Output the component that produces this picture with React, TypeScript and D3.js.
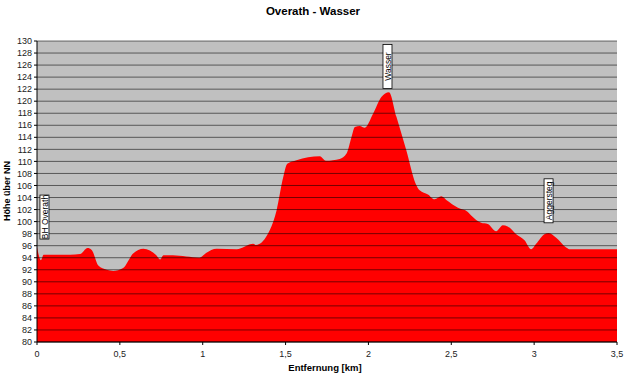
import React from "react";
import * as d3 from "d3";

const distKm = [
  0, 0.024, 0.04, 0.1, 0.2, 0.26, 0.305, 0.33, 0.37, 0.42, 0.46, 0.52, 0.58, 0.642, 0.72, 0.743, 0.763, 0.82, 0.9,
  0.98, 1.02, 1.084, 1.205, 1.305, 1.32, 1.405, 1.446, 1.486, 1.51, 1.566, 1.707, 1.743, 1.827, 1.868, 1.898, 1.918,
  1.948, 1.978, 2.028, 2.078, 2.124, 2.169, 2.229, 2.285, 2.309, 2.359, 2.399, 2.44, 2.47, 2.54, 2.6, 2.62, 2.68,
  2.72, 2.771, 2.811, 2.84, 2.892, 2.942, 2.982, 3.012, 3.062, 3.088, 3.133, 3.193, 3.217, 3.3, 3.4, 3.5,
];
const elevation = [
  95.8, 93.6, 94.5, 94.5, 94.5, 94.6, 95.6, 95.3, 92.7, 92.0, 91.8, 92.3, 94.7, 95.5, 94.4, 93.7, 94.4, 94.4, 94.2,
  94.0, 94.8, 95.5, 95.4, 96.3, 96.1, 98.6, 101.9, 107.4, 109.6, 110.2, 110.85, 110.1, 110.4, 111.3, 114.05, 115.7,
  115.9, 115.6, 117.9, 120.7, 121.5, 117.4, 111.8, 106.3, 105.2, 104.5, 103.7, 104.2, 103.6, 102.3, 101.6, 101.0, 99.8,
  99.6, 98.4, 99.4, 99.2, 97.9, 96.9, 95.4, 96.3, 97.9, 98.1, 97.3, 95.7, 95.4, 95.4, 95.4, 95.4,
];

const labelTexts = ["BH Overath", "Wasser", "Aggersteg"];
const labelKm = [0.045, 2.115, 3.087];
const labelElev = [97.1, 122.1, 99.8];

const xTicks = [0, 0.5, 1, 1.5, 2, 2.5, 3, 3.5];
const yTicks = d3.range(80, 131, 2);

const W = 627;
const H = 376;
const left = 37;
const right = 617;
const top = 41;
const bottom = 342;
const FONT = "Liberation Sans, Arial, sans-serif";

export default function App() {
  const x = d3.scaleLinear().domain([0, 3.5]).range([left, right]);
  const y = d3.scaleLinear().domain([80, 130]).range([bottom, top]);
  const pts = distKm.map((d, i) => [d, elevation[i]] as [number, number]);
  const area = d3
    .area<[number, number]>()
    .x((d) => x(d[0]))
    .y0(y(80))
    .y1((d) => y(d[1]))
    .curve(d3.curveMonotoneX);
  const fmt = (v: number) => String(v).replace(".", ",");
  const boxH = 44;

  return (
    <svg width={W} height={H} style={{ position: "absolute", left: 0, top: 0, background: "#fff" }} fontFamily={FONT}>
      <text x={313} y={15} textAnchor="middle" fontSize={11.5} fontWeight="bold" fill="#000">
        Overath - Wasser
      </text>
      <rect x={left} y={top} width={right - left} height={bottom - top} fill="#C0C0C0" />
      <path d={area(pts) || ""} fill="#FF0000" />
      {yTicks.map((t) => (
        <line key={t} x1={left} x2={right} y1={y(t)} y2={y(t)} stroke="#000" strokeOpacity={0.55} strokeWidth={1} />
      ))}
      <line x1={left} x2={left} y1={top} y2={bottom} stroke="#000" />
      <line x1={left} x2={right} y1={bottom} y2={bottom} stroke="#000" />
      {yTicks.map((t) => (
        <g key={"yt" + t}>
          <line x1={left - 3} x2={left} y1={y(t)} y2={y(t)} stroke="#000" />
          <text x={left - 5} y={y(t)} dy="0.35em" textAnchor="end" fontSize={9} fill="#222">
            {t}
          </text>
        </g>
      ))}
      {xTicks.map((t) => (
        <g key={"xt" + t}>
          <line x1={x(t)} x2={x(t)} y1={bottom} y2={bottom + 3} stroke="#000" />
          <text x={x(t)} y={bottom + 15} textAnchor="middle" fontSize={9} fill="#222">
            {fmt(t)}
          </text>
        </g>
      ))}
      <text x={325} y={371} textAnchor="middle" fontSize={9.5} fontWeight="bold" fill="#000">
        Entfernung [km]
      </text>
      <text
        transform={`translate(10,191) rotate(-90)`}
        textAnchor="middle"
        fontSize={9}
        fontWeight="bold"
        fill="#000"
      >
        Höhe über NN
      </text>
      {labelTexts.map((s, i) => {
        const cx = x(labelKm[i]);
        const by = y(labelElev[i]);
        return (
          <g key={s}>
            <rect x={cx - 4.5} y={by - boxH} width={9} height={boxH} fill="#fff" stroke="#000" strokeWidth={0.8} />
            <text
              transform={`translate(${cx + 3.3},${by - boxH / 2}) rotate(-90)`}
              textAnchor="middle"
              fontSize={8.5}
              fill="#000"
            >
              {s}
            </text>
          </g>
        );
      })}
    </svg>
  );
}
